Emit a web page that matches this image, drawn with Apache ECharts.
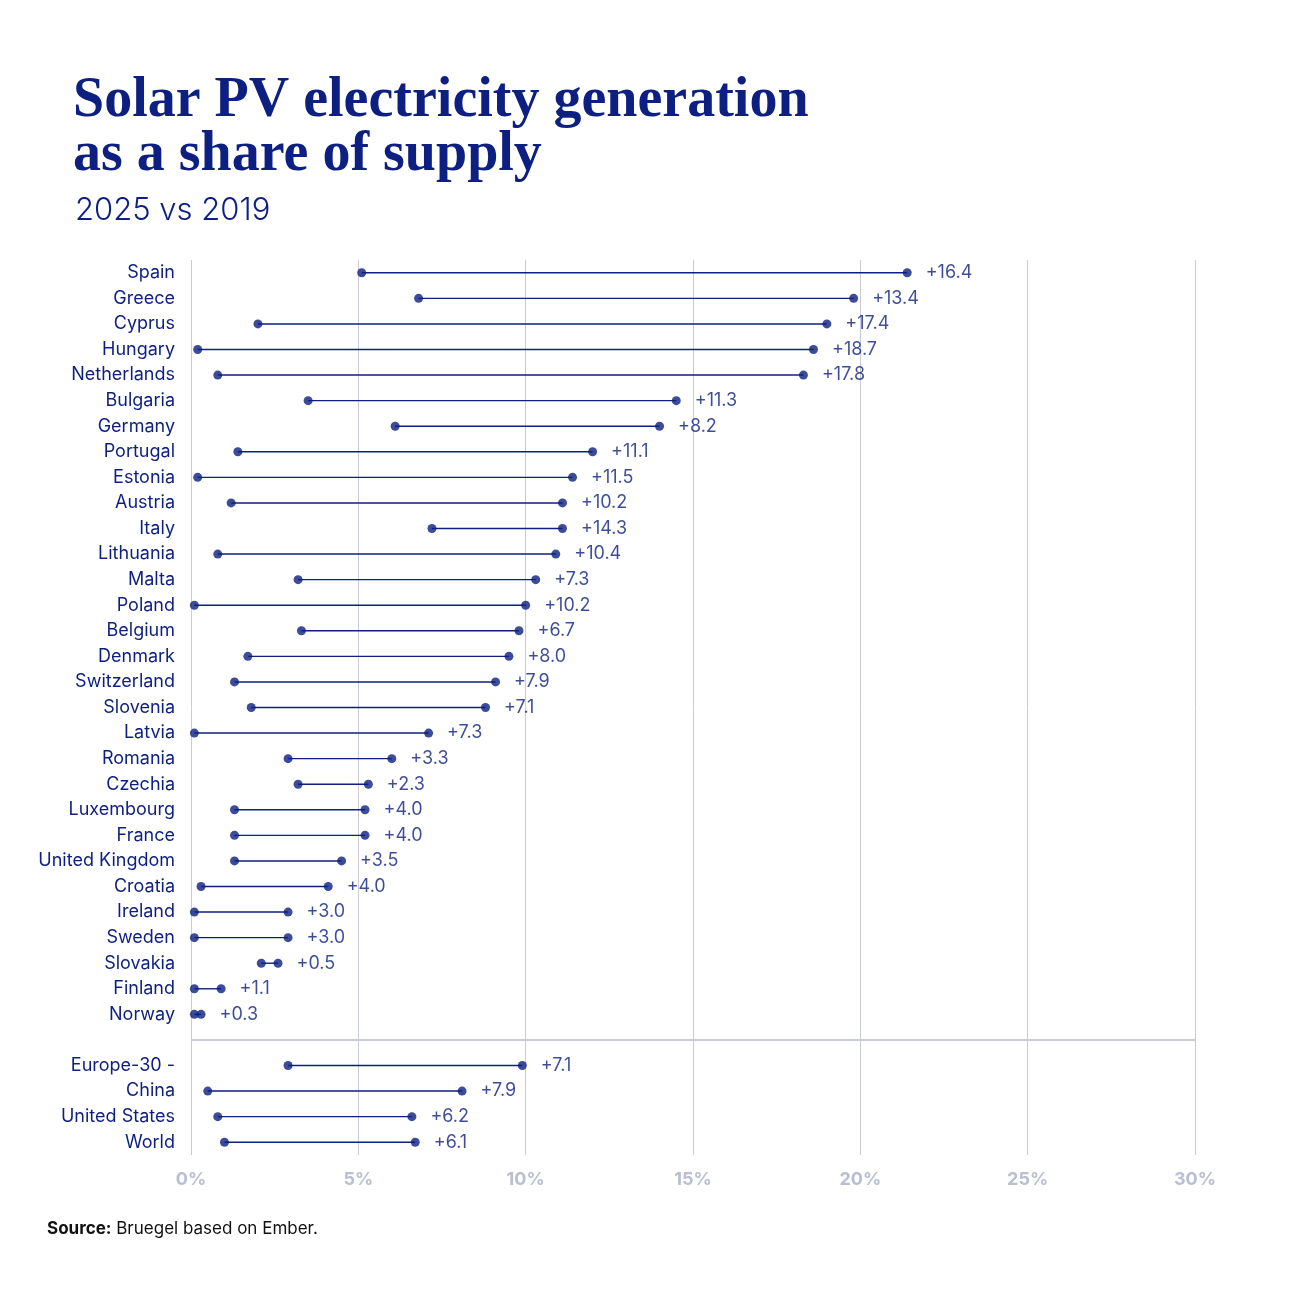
<!DOCTYPE html>
<html>
<head>
<meta charset="utf-8">
<script src="https://cdn.jsdelivr.net/npm/echarts@6/dist/echarts.min.js"></script>
<style>
  html, body { margin: 0; padding: 0; background: #fff; }
  #chart { width: 1296px; height: 1296px; }
</style>
</head>
<body>
<div id="chart"></div>
<script>
// countries, top to bottom; '' is the gap before the aggregates
var countries = ['Spain','Greece','Cyprus','Hungary','Netherlands','Bulgaria','Germany','Portugal','Estonia','Austria',
  'Italy','Lithuania','Malta','Poland','Belgium','Denmark','Switzerland','Slovenia','Latvia','Romania',
  'Czechia','Luxembourg','France','United Kingdom','Croatia','Ireland','Sweden','Slovakia','Finland','Norway',
  '','Europe-30 -','China','United States','World'];
// share in 2019 (%)
var share2019 = [5.1,6.8,2.0,0.2,0.8,3.5,6.1,1.4,0.2,1.2,
  7.2,0.8,3.2,0.1,3.3,1.7,1.3,1.8,0.1,2.9,
  3.2,1.3,1.3,1.3,0.3,0.1,0.1,2.1,0.1,0.1,
  null,2.9,0.5,0.8,1.0];
// share in 2025 (%)
var share2025 = [21.4,19.8,19.0,18.6,18.3,14.5,14.0,12.0,11.4,11.1,
  11.1,10.9,10.3,10.0,9.8,9.5,9.1,8.8,7.1,6.0,
  5.3,5.2,5.2,4.5,4.1,2.9,2.9,2.6,0.9,0.3,
  null,9.9,8.1,6.6,6.7];
// change labels as printed
var changeLabels = ['+16.4','+13.4','+17.4','+18.7','+17.8','+11.3','+8.2','+11.1','+11.5','+10.2',
  '+14.3','+10.4','+7.3','+10.2','+6.7','+8.0','+7.9','+7.1','+7.3','+3.3',
  '+2.3','+4.0','+4.0','+3.5','+4.0','+3.0','+3.0','+0.5','+1.1','+0.3',
  '','+7.1','+7.9','+6.2','+6.1'];
var gapIndex = 30;

var navy = '#0d1f80';
var chart = echarts.init(document.getElementById('chart'));

var segData = [], d19 = [], d25 = [];
countries.forEach(function (c, i) {
  if (share2019[i] == null) return;
  segData.push([share2019[i], i, share2025[i]]);
  d19.push([share2019[i], i]);
  d25.push({ value: [share2025[i], i], label: { formatter: changeLabels[i] } });
});

chart.setOption({
  title: [
    { text: 'Solar PV electricity generation\nas a share of supply', left: 68, top: 70,
      textStyle: { fontFamily: 'Liberation Serif', fontWeight: 'bold', fontSize: 56, lineHeight: 54, color: navy } },
    { text: '2025 vs 2019', left: 70, top: 190,
      textStyle: { fontFamily: 'Inter', fontWeight: 300, fontSize: 31, color: navy } },
    { text: '{b|Source:} Bruegel based on Ember.', left: 42, top: 1215,
      textStyle: { fontFamily: 'Inter', fontWeight: 'normal', fontSize: 17, color: '#111',
        rich: { b: { fontFamily: 'Inter', fontWeight: 'bold', fontSize: 17, color: '#111' } } } }
  ],
  grid: { left: 191, right: 101, top: 260, bottom: 141 },
  xAxis: {
    type: 'value', min: 0, max: 30, interval: 5,
    axisLine: { show: false }, axisTick: { show: false },
    splitLine: { lineStyle: { color: '#c9ccd6', width: 1 } },
    axisLabel: { formatter: '{value}%', color: '#b9bed0', fontFamily: 'Inter', fontWeight: 'bold', fontSize: 18, margin: 16 }
  },
  yAxis: {
    type: 'category', data: countries, inverse: true,
    axisLine: { show: false }, axisTick: { show: false },
    axisLabel: { color: navy, fontFamily: 'Inter', fontSize: 18, margin: 16 }
  },
  series: [
    {
      type: 'line', data: [[0, gapIndex], [30, gapIndex]], symbol: 'none', silent: true,
      lineStyle: { color: '#c9ccd6', width: 2 }, z: 1
    },
    {
      type: 'custom', data: segData, encode: { x: [0, 2], y: 1 },
      renderItem: function (params, api) {
        var a = api.coord([api.value(0), api.value(1)]);
        var b = api.coord([api.value(2), api.value(1)]);
        return { type: 'line', shape: { x1: a[0], y1: a[1], x2: b[0], y2: b[1] },
          style: { stroke: navy, lineWidth: 1.4 } };
      },
      z: 2
    },
    { type: 'scatter', data: d19, symbolSize: 9, itemStyle: { color: navy }, z: 3 },
    { type: 'scatter', data: d25, symbolSize: 9, itemStyle: { color: navy }, z: 3,
      label: { show: true, position: 'right', distance: 14, color: navy, fontFamily: 'Inter', fontSize: 18 } }
  ]
});
</script>
</body>
</html>
